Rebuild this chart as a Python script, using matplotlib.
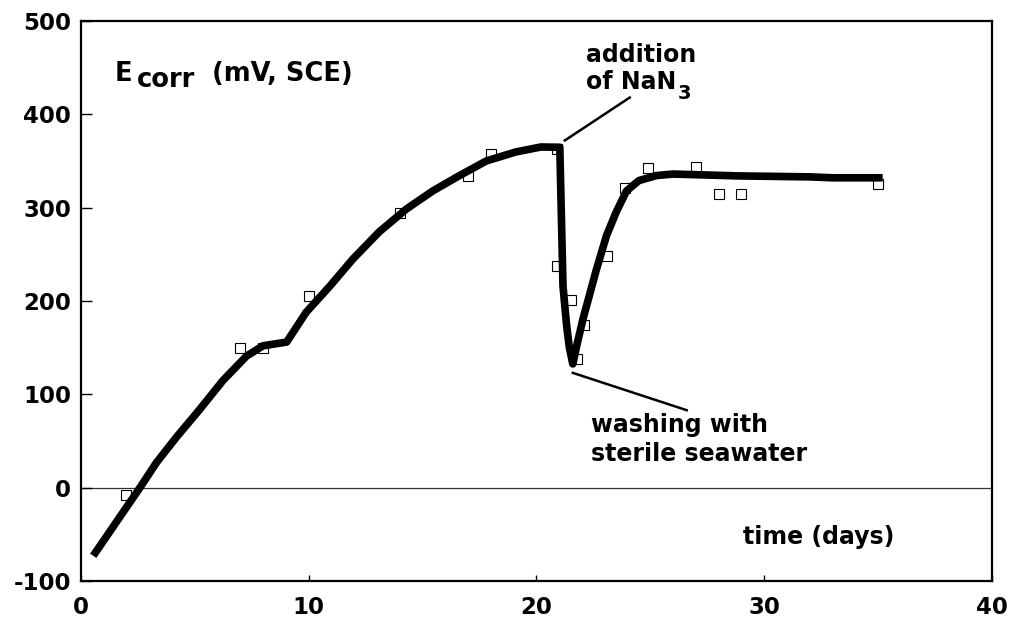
import matplotlib
matplotlib.use('Agg')
import matplotlib.pyplot as plt

# measured points (open squares)
days = [2, 7, 8, 10, 14, 17, 18, 20.9, 20.9, 21.5, 21.8, 22.1, 23.1, 23.9, 24.9, 27, 28, 29, 35]
ecorr = [-8, 150, 150, 205, 294, 334, 358, 363, 238, 201, 138, 174, 248, 321, 342, 344, 315, 315, 325]

# fitted curve (thick line)
curve_x = [0.55, 1.87, 2.6, 3.33, 4.2, 5.23, 6.25, 7.28, 8.0, 9.04, 9.9, 10.94, 11.95, 13.1,
           14.3, 15.46, 16.6, 17.8, 19.1, 20.2, 21.03, 21.17, 21.33, 21.45, 21.6, 21.8, 22.05,
           22.64, 23.08, 23.5, 23.96, 24.5, 25.27, 26, 28.9, 32, 33, 35.2]
curve_y = [-73, -26, 0, 27, 54, 84, 115, 141, 152, 156, 188, 216, 245, 274,
           298.6, 318, 334, 350, 359.7, 365, 364.7, 216, 173.6, 150, 132.6, 155, 181,
           234, 270, 295, 318, 329, 334.4, 336, 334, 333, 332, 332]

xticks = [0, 10, 20, 30, 40]
yticks = [-100, 0, 100, 200, 300, 400, 500]

plt.rcParams['font.family'] = 'DejaVu Sans'
plt.rcParams['font.weight'] = 'bold'
plt.rcParams['axes.unicode_minus'] = False

fig = plt.figure(figsize=(10.11, 6.21), dpi=100)
ax = fig.add_axes([0.0798, 0.0644, 0.9014, 0.9018])

ax.axhline(0, color='#333333', lw=0.9, zorder=1)
ax.plot(days, ecorr, 's', ms=7, mfc='white', mec='black', mew=0.8, zorder=2)
ax.plot(curve_x, curve_y, '-', color='black', lw=5.5, solid_capstyle='butt',
        solid_joinstyle='round', zorder=3)

ax.set_xlim(0, 40)
ax.set_ylim(-100, 500)
ax.set_xticks(xticks)
ax.set_yticks(yticks)
ax.tick_params(axis='x', direction='in', length=4.5, width=1, pad=11, labelsize=16.5)
ax.tick_params(axis='y', direction='in', length=8, width=1, pad=7, labelsize=16.5)
for lab in ax.get_xticklabels() + ax.get_yticklabels():
    lab.set_fontweight('bold')
for sp in ax.spines.values():
    sp.set_linewidth(1.6)

fs = 17
ax.text(1.5, 436, 'E', fontsize=18.5, fontweight='bold', va='baseline')
ax.text(2.47, 429, 'corr', fontsize=18.5, fontweight='bold', va='baseline')
ax.text(5.76, 436, '(mV, SCE)', fontsize=18.5, fontweight='bold', va='baseline')

ax.text(22.2, 456, 'addition', fontsize=fs, fontweight='bold', va='baseline')
ax.text(22.2, 427, 'of NaN', fontsize=fs, fontweight='bold', va='baseline')
ax.text(26.2, 416, '3', fontsize=14, fontweight='bold', va='baseline')
ax.plot([21.25, 24.1], [372, 418], color='black', lw=1.8, zorder=3)

ax.text(22.4, 60, 'washing with', fontsize=fs, fontweight='bold', va='baseline')
ax.text(22.4, 29, 'sterile seawater', fontsize=fs, fontweight='bold', va='baseline')
ax.plot([21.6, 26.6], [123, 83], color='black', lw=1.8, zorder=3)

ax.text(29.06, -60, 'time (days)', fontsize=fs, fontweight='bold', va='baseline')

fig.savefig('out.png', dpi=100)
